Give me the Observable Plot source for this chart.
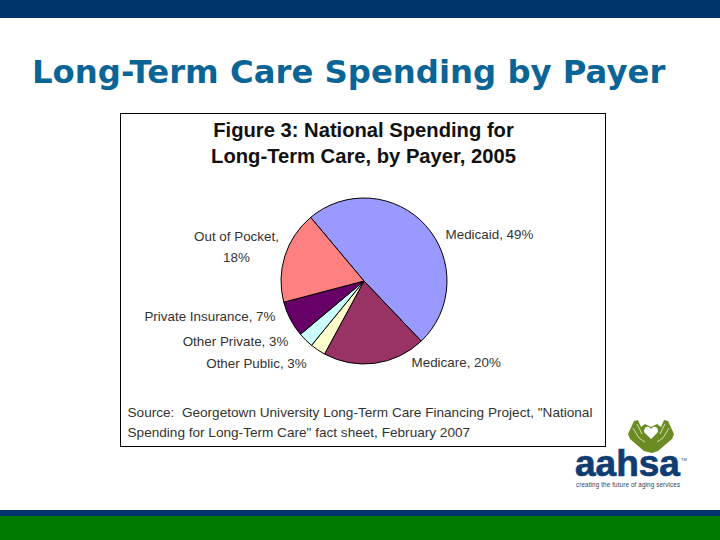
<!DOCTYPE html>
<html>
<head>
<meta charset="utf-8">
<script src="https://cdn.jsdelivr.net/npm/d3@7"></script>
<script src="https://cdn.jsdelivr.net/npm/@observablehq/plot@0.6"></script>
<style>
  html, body { margin: 0; padding: 0; background: #fff; }
  body { position: relative; width: 720px; height: 540px; overflow: hidden; }
  .abs { position: absolute; }
  #topbar { left: 0; top: 0; width: 720px; height: 18px; background: #00356b; }
  #botbar1 { left: 0; top: 510px; width: 720px; height: 6px; background: #00356b; }
  #botbar2 { left: 0; top: 516px; width: 720px; height: 24px; background: #007a00; }
  #slideTitle { left: 32px; top: 53px; margin: 0; font: bold 32.3px "DejaVu Sans", sans-serif; color: #0a6496; white-space: nowrap; }
  #box { left: 120px; top: 113px; width: 486px; height: 334px; box-sizing: border-box; border: 1px solid #000; }
  #box svg { display: block; }
  #logoWord { left: 575px; top: 449px; font: bold 37px "Liberation Sans", sans-serif; color: #0f3c73; -webkit-text-stroke: 0.7px #0f3c73; line-height: 30px; height: 30px; }
  #logoTag { left: 576px; top: 481px; font: 6.3px/7px "Liberation Sans", sans-serif; color: #33425c; white-space: nowrap; letter-spacing: 0.12px; }
  #logoTm { left: 681px; top: 457px; font: 4px "Liberation Sans", sans-serif; color: #33425c; }
  #hands { left: 626px; top: 418px; }
</style>
</head>
<body>
<div class="abs" id="topbar"></div>
<h1 class="abs" id="slideTitle">Long-Term Care Spending by Payer</h1>
<div class="abs" id="box"></div>
<svg class="abs" id="hands" width="50" height="36" viewBox="0 0 50 36">
  <path fill="#6b8c23" d="M2 16 L8 3 L12 2 L15 9 L19 6 L25 9 L31 6 L35 9 L38 2 L42 3 L48 16 L46 21 L32 33 L26 35 L18 33 L4 21 Z"/>
  <path fill="#fff" d="M25 21 L18 14 Q18 8 23 9 L25 11 L27 9 Q32 8 32 14 Z"/>
  <path fill="none" stroke="#dfe8c4" stroke-width="0.9" d="M7 10 L13 20 L19 24 M11 6 L16 16 M43 10 L37 20 L31 24 M39 6 L34 16"/>
</svg>
<div class="abs" id="logoWord">aahsa</div>
<div class="abs" id="logoTm">TM</div>
<div class="abs" id="logoTag">creating the future of aging services</div>
<div class="abs" id="botbar1"></div>
<div class="abs" id="botbar2"></div>
<script>
// Data
const payers = ["Medicaid", "Medicare", "Other Public", "Other Private", "Private Insurance", "Out of Pocket"];
const shares = [49, 20, 3, 3, 7, 18];
const labels = ["Medicaid, 49%", "Medicare, 20%", "Other Public, 3%", "Other Private, 3%", "Private Insurance, 7%", "Out of Pocket,\n18%"];
const colors = ["#9999ff", "#993366", "#ffffcc", "#ccffff", "#660066", "#ff8080"];
const chartTitle = "Figure 3: National Spending for\nLong-Term Care, by Payer, 2005";
const sourceNote = "Source:  Georgetown University Long-Term Care Financing Project, \"National\nSpending for Long-Term Care\" fact sheet, February 2007";

// Layout / style (not data)
const W = 484, H = 332, cx = 243, cy = 167, R = 83;
const labelRadius = 1.1;
const firstAngle = -40 * Math.PI / 180;
const nudgeX = [13, 35, -7, -12, -8, -41];
const nudgeY = [12, -11.5, 4, -7, -9, -9];
const anchors = ["start", "start", "end", "end", "end", "middle"];

const arcs = d3.pie().sort(null).startAngle(firstAngle).endAngle(firstAngle + 2 * Math.PI)(shares);
const slices = payers.map((payer, i) => ({
  payer,
  label: labels[i],
  start: arcs[i].startAngle,
  end: arcs[i].endAngle,
  mid: (arcs[i].startAngle + arcs[i].endAngle) / 2,
  dx: nudgeX[i],
  dy: nudgeY[i],
  anchor: anchors[i]
}));

function pieRender(index, scales, values) {
  const g = d3.create("svg:g");
  const radius = scales.x(1) - scales.x(0);
  const arc = d3.arc().innerRadius(0).outerRadius(radius);
  for (const i of index) {
    g.append("path")
      .attr("d", arc({startAngle: slices[i].start, endAngle: slices[i].end}))
      .attr("transform", `translate(${values.x[i]},${values.y[i]})`)
      .attr("fill", values.fill[i])
      .attr("stroke", "#000")
      .attr("stroke-width", 1)
      .attr("stroke-linejoin", "round");
  }
  return g.node();
}

const textFont = '"Liberation Sans", sans-serif';

const chart = Plot.plot({
  width: W, height: H,
  marginTop: 0, marginRight: 0, marginBottom: 0, marginLeft: 0,
  style: {background: "#fff", overflow: "visible"},
  x: {domain: [-cx / R, (W - cx) / R], range: [0, W], axis: null},
  y: {domain: [-cy / R, (H - cy) / R], range: [0, H], axis: null},
  color: {domain: payers, range: colors},
  marks: [
    Plot.dot(slices, {x: () => 0, y: () => 0, fill: "payer", r: R, render: pieRender}),
    ...["start", "middle", "end"].map(a => Plot.text(slices.filter(d => d.anchor === a), {
      x: d => Math.sin(d.mid) * labelRadius,
      y: d => -Math.cos(d.mid) * labelRadius,
      text: "label",
      textAnchor: a,
      render(index, scales, values, dimensions, context, next) {
        const data = slices.filter(d => d.anchor === a);
        const node = next(index, scales, values, dimensions, context);
        d3.select(node).selectAll("text").each(function(i) {
          const cur = d3.select(this).attr("transform") || "";
          d3.select(this).attr("transform", `translate(${data[i].dx},${data[i].dy}) ${cur}`);
        });
        return node;
      },
      fontFamily: textFont,
      fontSize: 13.4,
      lineHeight: 1.55,
      fill: "#333"
    })),
    Plot.text([chartTitle], {
      frameAnchor: "top",
      dy: 4,
      text: d => d,
      fontFamily: textFont,
      fontSize: 20.2,
      fontWeight: "bold",
      lineHeight: 1.28,
      fill: "#111"
    }),
    Plot.text([sourceNote], {
      frameAnchor: "bottom-left",
      dx: 6,
      dy: -10,
      text: d => d,
      fontFamily: textFont,
      fontSize: 13.6,
      lineHeight: 1.4,
      fill: "#333"
    })
  ]
});
document.getElementById("box").appendChild(chart);
</script>
</body>
</html>
